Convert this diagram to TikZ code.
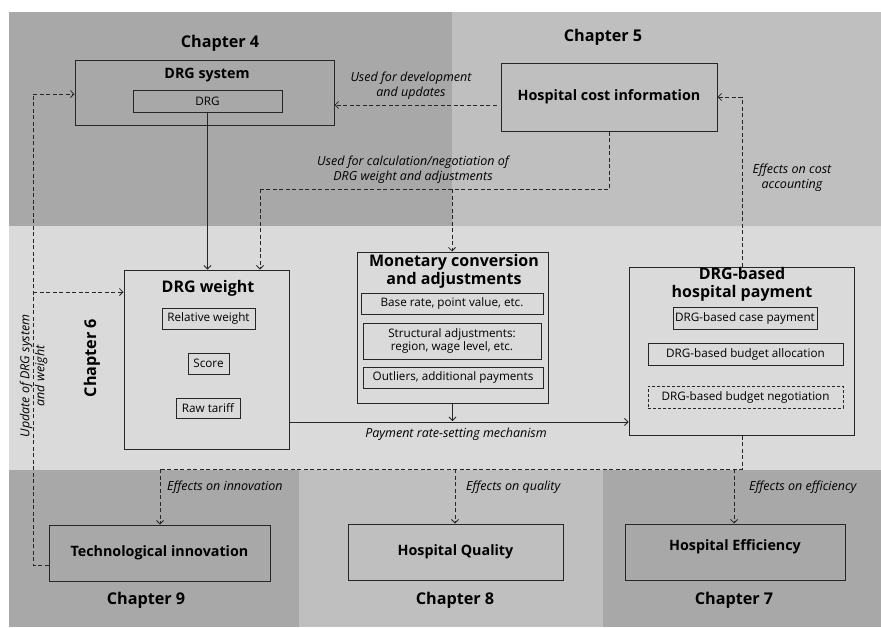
\documentclass[tikz,border=0pt]{standalone}
\usepackage{fontspec}
\setmainfont{Open Sans}
\usetikzlibrary{arrows.meta}
\definecolor{gdark}{HTML}{A8A8A8}
\definecolor{gmid}{HTML}{BFBFBF}
\definecolor{glight}{HTML}{DADADA}
\tikzset{
  box/.style={draw=black!85, line width=0.9pt, inner sep=0pt},
  bigbox/.style={box, line width=1pt},
  boldtxt/.style={font=\fontsize{14.3}{16}\selectfont\bfseries, inner sep=0pt},
  titletxt/.style={font=\fontsize{16}{18.5}\selectfont\bfseries, inner sep=0pt, align=center},
  chaptxt/.style={font=\fontsize{16.2}{18}\selectfont\bfseries, inner sep=0pt},
  smalltxt/.style={font=\fontsize{11.7}{13.5}\selectfont, align=center},
  ittxt/.style={font=\fontsize{12.5}{15}\selectfont\itshape, inner sep=0pt, align=center},
  conn/.style={line width=0.8pt, draw=black!85, -{Straight Barb[length=3.5pt,width=7pt]}},
  dconn/.style={conn, dash pattern=on 4pt off 2.5pt},
  dline/.style={line width=0.8pt, draw=black!85, dash pattern=on 4pt off 2.5pt},
}
\begin{document}
\begin{tikzpicture}[x=1pt,y=-1pt]
\useasboundingbox (0,0) rectangle (881,627);
\fill[white] (0,0) rectangle (881,627);
% background panels
\fill[gdark] (9,12) rectangle (452,226);
\fill[gmid] (452,12) rectangle (881,226);
\fill[glight] (9,226) rectangle (881,470);
\fill[gdark] (9,470) rectangle (299,627);
\fill[gmid] (299,470) rectangle (603,627);
\fill[gdark] (603,470) rectangle (881,627);

% chapter labels
\node[chaptxt] (ch4) at (220,43) {Chapter 4};
\node[chaptxt] (ch5) at (603,37) {Chapter 5};
\node[chaptxt, rotate=90] (ch6) at (92,358) {Chapter 6};
\node[chaptxt] (ch9) at (146,600) {Chapter 9};
\node[chaptxt] (ch8) at (455,600) {Chapter 8};
\node[chaptxt] (ch7) at (734,600) {Chapter 7};

% DRG system
\node[bigbox, minimum width=259pt, minimum height=65pt] (sys) at (204.5,92.5) {};
\node[boldtxt] (systitle) at (207,75) {DRG system};
\node[box, minimum width=149pt, minimum height=22pt, smalltxt] (drg) at (207.5,101) {DRG};

% Hospital cost information
\node[bigbox, minimum width=216pt, minimum height=68pt, boldtxt] (cost) at (609,97) {Hospital cost information};

% DRG weight
\node[bigbox, minimum width=165pt, minimum height=179pt] (weight) at (206.5,359.5) {};
\node[titletxt] (wtitle) at (208,288) {DRG weight};
\node[box, minimum width=93pt, minimum height=21pt, smalltxt] (relw) at (208.5,318.5) {Relative weight};
\node[box, minimum width=41pt, minimum height=21pt, smalltxt] (score) at (208.5,363.5) {Score};
\node[box, minimum width=64pt, minimum height=20pt, smalltxt] (raw) at (208,408) {Raw tariff};

% Monetary conversion
\node[bigbox, minimum width=191pt, minimum height=151pt] (mon) at (452.5,327.5) {};
\node[titletxt] (montitle) at (454,271.5) {Monetary conversion\\and adjustments};
\node[box, minimum width=182pt, minimum height=21pt, smalltxt] (base) at (452,303.5) {Base rate, point value, etc.};
\node[box, minimum width=178pt, minimum height=36pt, smalltxt, inner sep=0pt] (struct) at (452,341) {Structural adjustments:\\region, wage level, etc.};
\node[box, minimum width=180pt, minimum height=21pt, smalltxt] (outl) at (453,377.5) {Outliers, additional payments};

% DRG-based hospital payment
\node[bigbox, minimum width=225pt, minimum height=168pt] (pay) at (741.5,351) {};
\node[titletxt] (paytitle) at (742,284.5) {DRG-based\\hospital payment};
\node[box, minimum width=144pt, minimum height=22pt, smalltxt] (case) at (745,318) {DRG-based case payment};
\node[box, minimum width=195pt, minimum height=22pt, smalltxt] (alloc) at (745.5,354) {DRG-based budget allocation};
\node[box, dash pattern=on 3pt off 2pt, minimum width=195pt, minimum height=22pt, smalltxt] (nego) at (745.5,397) {DRG-based budget negotiation};

% bottom boxes
\node[bigbox, minimum width=221pt, minimum height=56pt, boldtxt] (tech) at (159.5,553) {Technological innovation};
\node[bigbox, minimum width=215pt, minimum height=56pt, boldtxt] (qual) at (455.5,552) {Hospital Quality};
\node[bigbox, minimum width=220pt, minimum height=56pt] (eff) at (735,552) {};
\node[boldtxt] (efftxt) at (735,547) {Hospital Efficiency};

% coordinates
\coordinate (j1) at (609,189);
\coordinate (j2) at (260,189);
\coordinate (j3) at (452,189);
\coordinate (l1) at (33,565);
\coordinate (l2) at (33,94);
\coordinate (l3) at (33,292);
\coordinate (r1) at (742,97);
\coordinate (b1) at (742,469);
\coordinate (b2) at (160,469);
\coordinate (bq) at (455,469);
\coordinate (be) at (734,469);

% connectors
\draw[conn] (drg.south) -- (drg.south |- weight.north);
\draw[dconn, shorten <=4pt] (cost.west |- 0,105) -- (sys.east |- 0,105);
\draw[dline] (cost.south) -- (j1) -- (j2);
\draw[dconn] (j2) -- (j2 |- weight.north);
\draw[dconn] (j3) -- (j3 |- mon.north);
\draw[dline] (tech.west |- l1) -- (l1) -- (l2);
\draw[dconn] (l2) -- (l2 -| sys.west);
\draw[dconn] (l3) -- (l3 -| weight.west);
\draw[conn] (mon.south) -- (mon.south |- 0,421);
\draw[conn] (weight.east |- 0,422) -- (pay.west |- 0,422);
\draw[dline] (r1 |- pay.north) -- (r1);
\draw[dconn] (r1) -- (r1 -| cost.east);
\draw[dline] (b1 |- pay.south) -- (b1) -- (b2);
\draw[dconn] (b2) -- (b2 |- tech.north);
\draw[dconn] (bq) -- (bq |- qual.north);
\draw[dconn] (be) -- (be |- eff.north);

% labels
\node[ittxt] (lab1) at (411,86) {Used for development\\and updates};
\node[ittxt] (lab2) at (413,170) {Used for calculation/negotiation of\\DRG weight and adjustments};
\node[ittxt] (lab3) at (792,177.5) {Effects on cost\\accounting};
\node[ittxt, rotate=90] (lab4) at (33.5,376) {Update of DRG system\\and weight};
\node[ittxt] (lab5) at (456,434) {Payment rate-setting mechanism};
\node[ittxt, anchor=west] (lab6) at (167,487) {Effects on innovation};
\node[ittxt, anchor=west] (lab7) at (466,487) {Effects on quality};
\node[ittxt, anchor=west] (lab8) at (749,487) {Effects on efficiency};
\end{tikzpicture}
\end{document}
